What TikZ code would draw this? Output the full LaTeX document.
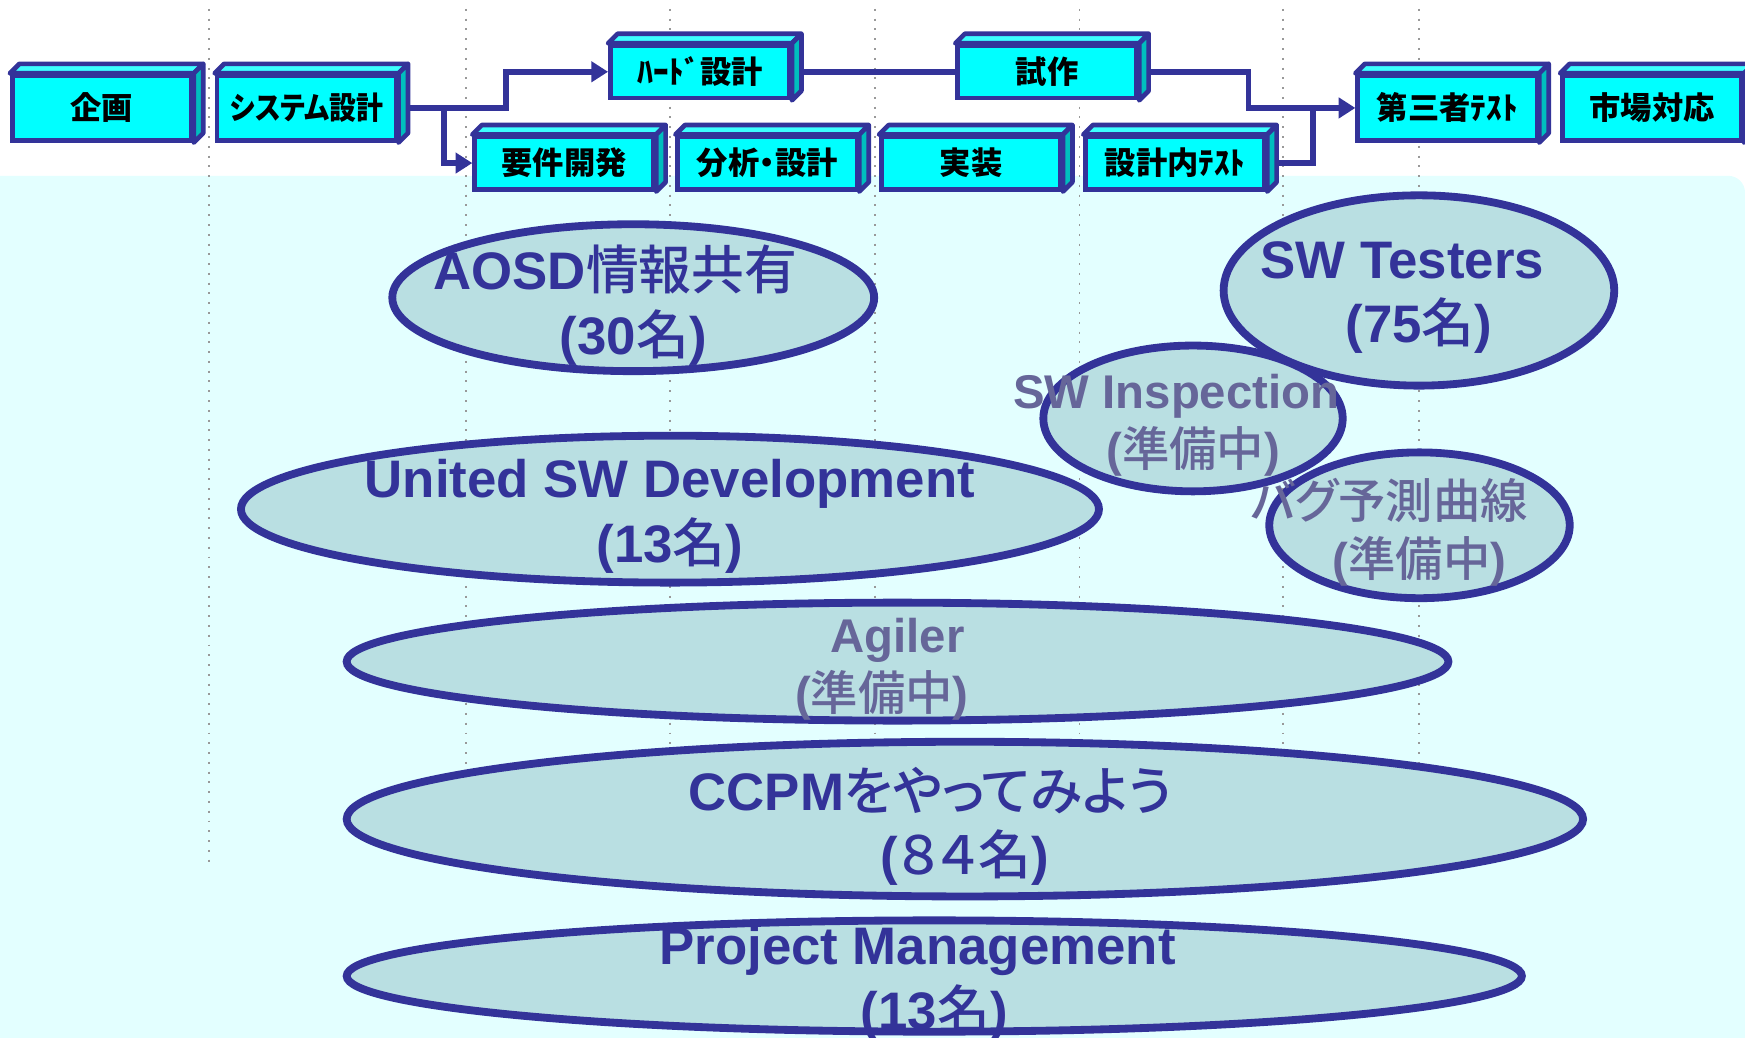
\documentclass[tikz,border=0pt]{standalone}
\usepackage{fontspec}
\setmainfont{Liberation Sans}
\newfontfamily\jfont{Noto Sans CJK JP}[RawFeature=+palt]
\newfontfamily\jmed{Noto Sans CJK JP Medium}[RawFeature=+palt]
\usetikzlibrary{shapes.geometric,arrows.meta}
\newcommand\jp[1]{{\jmed\mdseries #1}}
\definecolor{mybleu}{RGB}{51,51,153}
\definecolor{mygris}{RGB}{102,102,153}
\definecolor{myfond}{RGB}{227,255,255}
\definecolor{myellipse}{RGB}{185,223,226}
\definecolor{myface}{RGB}{0,255,255}
\definecolor{mydessus}{RGB}{60,255,255}
\definecolor{mycote}{RGB}{0,190,190}
\begin{document}
\begin{tikzpicture}[
    bloc/.style={draw=mybleu,fill=myface,line width=1.2pt,minimum width=1.61cm,minimum height=.47cm,inner sep=0pt,font=\jfont\bfseries\fontsize{8}{8}\selectfont},
    haut/.style={bloc,minimum height=.58cm},
    dessus/.style={draw=mybleu,fill=mydessus,line width=1.2pt,line join=round},
    cote/.style={draw=mybleu,fill=mycote,line width=1.2pt,line join=round},
    lien/.style={draw=mybleu,line width=1.5pt},
    fl/.style={lien,-{Triangle[length=.15cm,width=.18cm]}},
    bulle/.style={ellipse,draw=mybleu,fill=myellipse,line width=2pt,inner sep=0pt},
    txt/.style={align=center,text=mybleu,inner sep=0pt,yshift=-.065cm,font=\bfseries\fontsize{13.5}{16.5}\selectfont},
    prep/.style={txt,text=mygris,font=\bfseries\fontsize{12.1}{14.8}\selectfont}]
    \useasboundingbox (0,0) rectangle (15.68,-9.32);
    \def\mydepth{.085}
    \fill[myfond,rounded corners=.15cm] (-.3,-1.58) rectangle (15.68,-9.6);
    \foreach \x/\y in {1.88/7.8,4.19/6.9,6.02/6.9,7.86/6.8,9.70/6.8,11.53/6.9,12.75/6.9}
        \draw[gray!80,dotted,line width=.5pt] (\x,-.08) -- (\x,-\y);
    % les etapes
    \node[haut] (plan) at (.915,-.97) {企画};
    \node[haut] (sys) at (2.755,-.97) {\scalebox{.86}[1]{システム設計}};
    \node[bloc] (hard) at (6.29,-.645) {ﾊｰﾄﾞ設計};
    \node[bloc] (essai) at (9.41,-.645) {試作};
    \node[bloc] (req) at (5.07,-1.465) {要件開発};
    \node[bloc] (ana) at (6.895,-1.465) {分析・設計};
    \node[bloc] (impl) at (8.725,-1.465) {実装};
    \node[bloc] (ctest) at (10.56,-1.465) {設計内ﾃｽﾄ};
    \node[haut] (tiers) at (13.005,-.97) {第三者ﾃｽﾄ};
    \node[haut] (march) at (14.845,-.97) {市場対応};
    \foreach \n in {plan,sys,hard,essai,req,ana,impl,ctest,tiers,march}{
        \draw[dessus] (\n.north west) -- ++(\mydepth,\mydepth) -- ([shift={(\mydepth,\mydepth)}]\n.north east) -- (\n.north east) -- cycle;
        \draw[cote] (\n.north east) -- ++(\mydepth,\mydepth) -- ([shift={(\mydepth,\mydepth)}]\n.south east) -- (\n.south east) -- cycle;
    }
    \draw[fl] ([xshift=\mydepth cm]sys.east) -| ([xshift=-.92cm]hard.west) -- (hard.west);
    \draw[fl] ([xshift=.41cm]sys.east) |- (req.west);
    \draw[lien] ([xshift=\mydepth cm]hard.east) -- (essai.west);
    \draw[fl] ([xshift=\mydepth cm]essai.east) -| ([xshift=-.96cm]tiers.west) -- (tiers.west);
    \draw[lien] ([xshift=\mydepth cm]ctest.east) -| ([xshift=-.38cm]tiers.west);
    % les groupes
    \node[bulle,minimum width=4.33cm,minimum height=1.32cm] (aosd) at (5.69,-2.675) {};
    \node[txt] (aosdt) at (aosd) {AOSD\jp{情報共有}\kern.32cm\\(30\jp{名})};
    \node[bulle,minimum width=7.71cm,minimum height=1.32cm] (usd) at (6.02,-4.575) {};
    \node[txt] (usdt) at (usd) {United SW Development\\(13\jp{名})};
    \node[bulle,minimum width=9.9cm,minimum height=1.06cm] (agil) at (8.065,-5.945) {};
    \node[prep] (agilt) at (agil) {Agiler\\(\jp{準備中})\kern.28cm};
    \node[bulle,minimum width=11.11cm,minimum height=1.39cm] (ccpm) at (8.67,-7.36) {};
    \node[txt] (ccpmt) at (ccpm) {CCPM\jp{をやってみよう}\kern.62cm\\(\jp{８４名})};
    \node[bulle,minimum width=10.56cm,minimum height=1.0cm] (pm) at (8.395,-8.77) {};
    \node[txt] (pmt) at (pm) {Project Management\kern.3cm\\(13\jp{名})};
    \node[bulle,minimum width=3.51cm,minimum height=1.71cm] (swt) at (12.75,-2.61) {};
    \node[txt] (swtt) at (swt) {SW Testers\kern.3cm\\(75\jp{名})};
    \node[bulle,minimum width=2.69cm,minimum height=1.31cm] (insp) at (10.72,-3.76) {};
    \node[prep] (inspt) at (insp) {SW Inspection\kern.3cm\\(\jp{準備中})};
    \node[bulle,minimum width=2.7cm,minimum height=1.31cm] (bug) at (12.755,-4.72) {};
    \node[prep] (bugt) at (bug) {\jp{バグ予測曲線}\kern.54cm\\(\jp{準備中})};
\end{tikzpicture}
\end{document}
